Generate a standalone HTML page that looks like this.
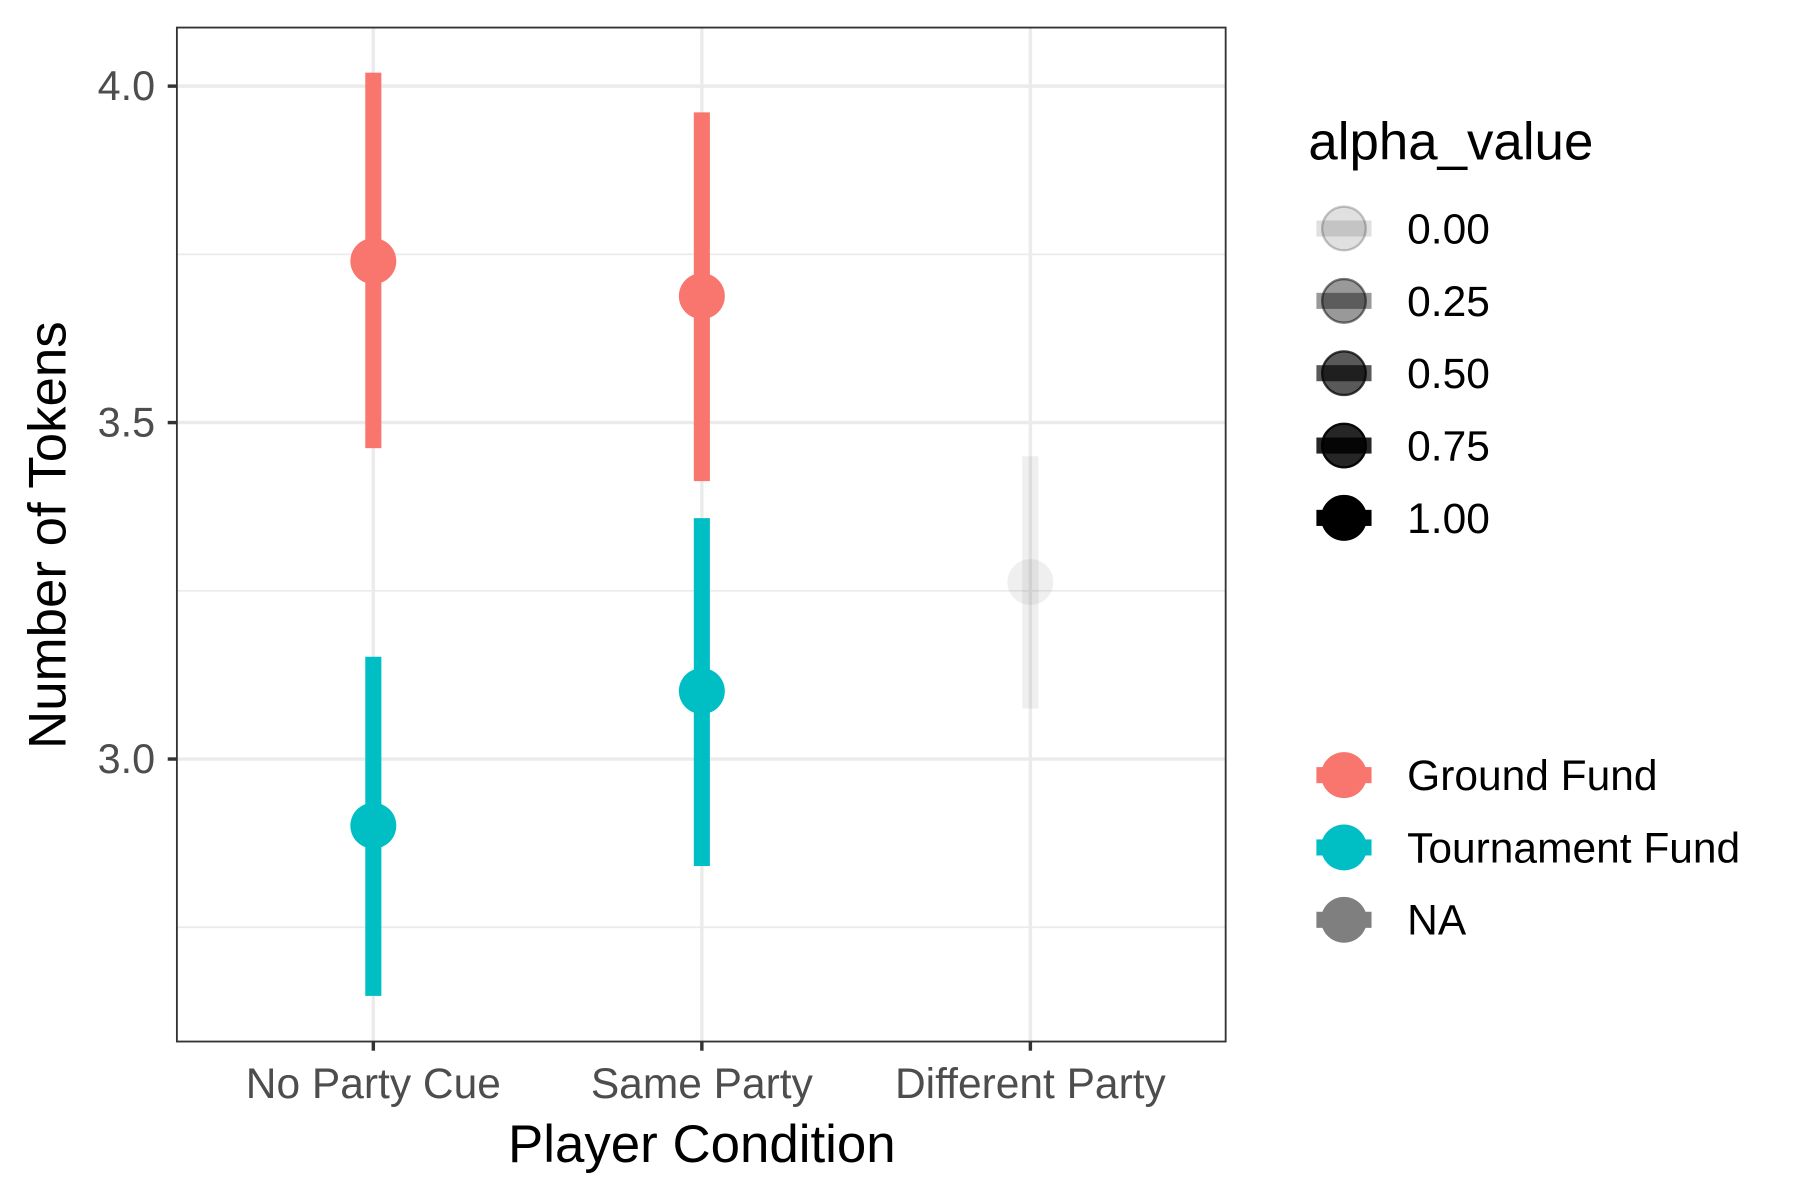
<!DOCTYPE html>
<html><head><meta charset="utf-8"><style>
html,body{margin:0;padding:0;background:#fff;}
svg{display:block;font-family:"Liberation Sans",Arial,sans-serif;}
</style></head><body>
<svg id="chart" width="1800" height="1200" viewBox="0 0 1567 1045" preserveAspectRatio="none">
<rect x="0" y="0" width="1567" height="1045" fill="#fff"/>
<g id="grid"></g>
<g id="marks"></g>
<rect x="154" y="24" width="913" height="883" fill="none" stroke="#333" stroke-width="1.6"/>
<g id="axes"></g>
<text x="611" y="1012" font-size="46" text-anchor="middle" fill="#000">Player Condition</text>
<text transform="translate(57,466) rotate(-90)" font-size="46" text-anchor="middle" fill="#000">Number of Tokens</text>
<g id="legend"></g>
</svg>
<script>
const categories = ["No Party Cue","Same Party","Different Party"];
const groundMean = [3.74, 3.688, null];
const groundLo = [3.462, 3.413, null];
const groundHi = [4.02, 3.961, null];
const tournMean = [2.901, 3.101, null];
const tournLo = [2.648, 2.841, null];
const tournHi = [3.152, 3.358, null];
const naMean = [null, null, 3.263];
const naLo = [null, null, 3.075];
const naHi = [null, null, 3.45];
const yTicks = [3.0, 3.5, 4.0];
const yTickLabels = ["3.0","3.5","4.0"];
const yMinor = [2.75, 3.25, 3.75];
const alphaLevels = ["0.00","0.25","0.50","0.75","1.00"];
const fillLevels = ["Ground Fund","Tournament Fund","NA"];

const NS="http://www.w3.org/2000/svg";
const yScale = v => 661 - (v-3.0)*586;
const xScale = i => 325 + i*286;
function mk(parent, tag, attrs){const e=document.createElementNS(NS,tag);for(const k in attrs)e.setAttribute(k,attrs[k]);parent.appendChild(e);return e;}
const grid=document.getElementById('grid'), marks=document.getElementById('marks'), axes=document.getElementById('axes'), legend=document.getElementById('legend');

yMinor.forEach(v=>{const l=mk(grid,'line',{x1:154,x2:1067,y1:yScale(v),y2:yScale(v),stroke:'#ebebeb','stroke-width':1.5});

});
yTicks.forEach((v,i)=>{const l=mk(grid,'line',{x1:154,x2:1067,y1:yScale(v),y2:yScale(v),stroke:'#ebebeb','stroke-width':3});


const t=mk(axes,'line',{x1:146,x2:154,y1:yScale(v),y2:yScale(v),stroke:'#333','stroke-width':3});


const tx=mk(axes,'text',{x:135,y:yScale(v)+12,'font-size':36,'text-anchor':'end',fill:'#4d4d4d'});tx.textContent=yTickLabels[i];

});
categories.forEach((c,i)=>{const l=mk(grid,'line',{x1:xScale(i),x2:xScale(i),y1:24,y2:907,stroke:'#ebebeb','stroke-width':3});


const t=mk(axes,'line',{x1:xScale(i),x2:xScale(i),y1:907,y2:915,stroke:'#333','stroke-width':3});


const tx=mk(axes,'text',{x:xScale(i),y:956,'font-size':37,'text-anchor':'middle',fill:'#4d4d4d'});tx.textContent=c;

});

function series(mean,lo,hi,color,op,name){
  mean.forEach((m,i)=>{if(m===null)return;
    const r=mk(marks,'rect',{x:xScale(i)-7,y:yScale(hi[i]),width:14,height:yScale(lo[i])-yScale(hi[i]),fill:color,'fill-opacity':op});
    
    
    const c=mk(marks,'circle',{cx:xScale(i),cy:yScale(m),r:20,fill:color,'fill-opacity':op});
    
    
  });
}
series(groundMean,groundLo,groundHi,'#F8766D',1,'ground-fund');
series(tournMean,tournLo,tournHi,'#00BFC4',1,'tournament-fund');
series(naMean,naLo,naHi,'#7f7f7f',0.12,'na');

const lt=mk(legend,'text',{x:1139,y:139,'font-size':46,fill:'#000'});lt.textContent='alpha_value';


const alphaOps=[0.12,0.4,0.65,0.85,1];
alphaLevels.forEach((a,i)=>{const y=199+i*63;
  const g=mk(legend,'g',{});
  
  
  mk(g,'rect',{x:1146,y:y-7,width:48,height:14,fill:'#000','fill-opacity':alphaOps[i]});
  mk(g,'circle',{cx:1170,cy:y,r:19,fill:'#000','fill-opacity':alphaOps[i],stroke:'#000','stroke-opacity':Math.min(1,alphaOps[i]+0.1),'stroke-width':2});
  const t=mk(g,'text',{x:1225,y:y+13,'font-size':37,fill:'#000'});t.textContent=a;});
const fillCols=['#F8766D','#00BFC4','#7f7f7f'];
fillLevels.forEach((f,i)=>{const y=675+i*63;
  const g=mk(legend,'g',{});
  
  
  mk(g,'rect',{x:1146,y:y-7,width:48,height:14,fill:fillCols[i]});
  mk(g,'circle',{cx:1170,cy:y,r:20,fill:fillCols[i]});
  const t=mk(g,'text',{x:1225,y:y+13,'font-size':37,fill:'#000'});t.textContent=f;});
</script>
</body></html>
